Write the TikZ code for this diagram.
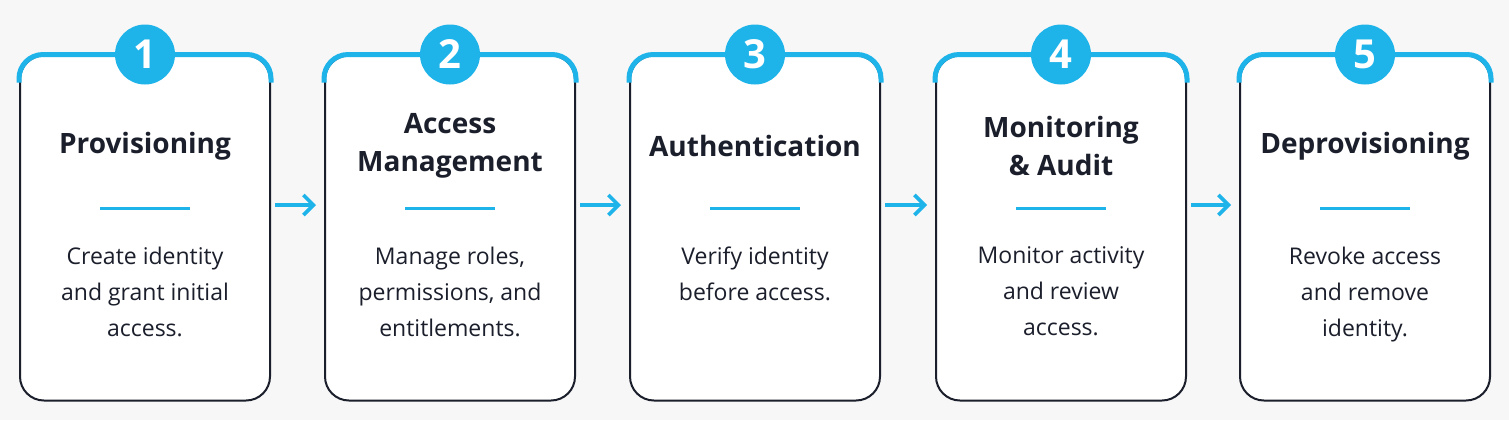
\documentclass[tikz,border=0pt]{standalone}
\usepackage{fontspec}
\setmainfont{Open Sans}
\usetikzlibrary{arrows.meta, positioning}
\definecolor{stepcyan}{HTML}{1EB4EA}
\definecolor{inkdark}{HTML}{1B1E2B}

\begin{document}
\begin{tikzpicture}[x=0.5pt, y=-0.5pt,
    stage/.style={draw=inkdark, line width=1pt, rounded corners=12pt,
        minimum width=125pt, minimum height=172.5pt, fill=white},
    badge/.style={circle, fill=stepcyan, text=white, minimum size=30pt,
        inner sep=0pt, font=\bfseries\fontsize{20}{20}\selectfont},
    title/.style={align=center, text=inkdark, font=\bfseries\fontsize{14}{19}\selectfont},
    desc/.style={align=center, text=inkdark, font=\fontsize{11.5}{18}\selectfont},
    flow/.style={-{Straight Barb[length=5pt, width=10pt]}, stepcyan, line width=1.8pt,
        shorten <=2pt, shorten >=4pt}
]
\fill[white!97!black] (0,0) rectangle (1509,420);
\useasboundingbox (0,0) rectangle (1509,420);
\foreach \i/\xc/\ttl/\txt in {
    1/145/Provisioning/{Create identity\\and grant initial\\access.},
    2/450/{Access\\Management}/{Manage roles,\\permissions, and\\entitlements.},
    3/755/Authentication/{Verify identity\\before access.},
    4/1061/{Monitoring\\\& Audit}/{Monitor activity\\and review\\access.},
    5/1365/Deprovisioning/{Revoke access\\and remove\\identity.}}{
    % card with cyan top rim
    \node[stage] (box\i) at (\xc,228) {};
    \draw[stepcyan, line width=2.5pt, rounded corners=12pt]
        ([yshift=-14pt]box\i.north west) |- (box\i.north) -| ([yshift=-14pt]box\i.north east);
    \node[badge] (num\i) at (box\i.north) {\i};
    \node[title] (ttl\i) at (\xc,146) {\ttl};
    \draw[stepcyan, line width=1.5pt] (\xc-45,208) coordinate (rl\i) -- (\xc+45,208) coordinate (rr\i);
    \node[desc, anchor=north] (txt\i) at (\xc,240) {\txt};
}
\foreach \a/\b in {1/2, 2/3, 3/4, 4/5}
    \draw[flow] (box\a.east) ++(0,11.5pt) coordinate (s\a) -- (s\a -| box\b.west) coordinate (e\a);
\end{tikzpicture}
\end{document}
